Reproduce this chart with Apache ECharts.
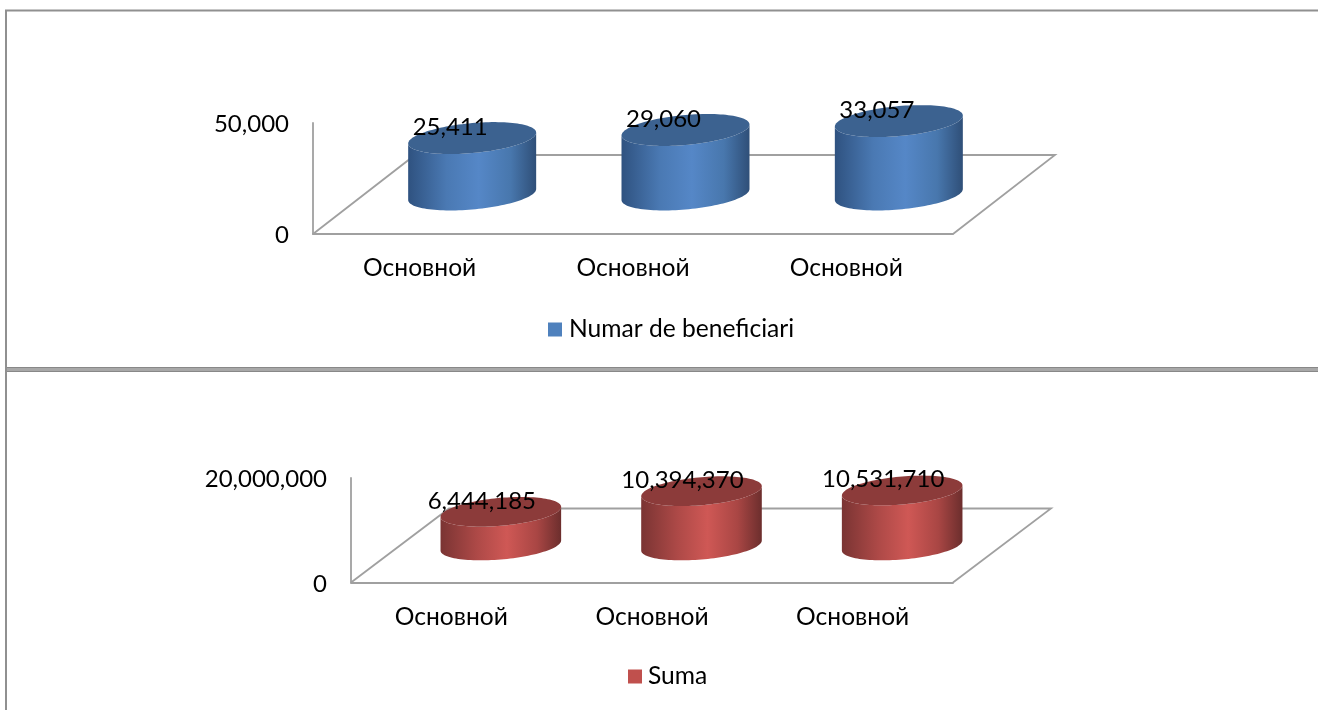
<!DOCTYPE html>
<html><head><meta charset="utf-8">
<style>html,body{margin:0;padding:0;background:#fff}#c{width:1318px;height:710px}</style>
<script src="https://cdn.jsdelivr.net/npm/echarts@6/dist/echarts.min.js"></script>
</head><body><div id="c"></div>
<script>
const categories = ['Основной', 'Основной', 'Основной'];
const beneficiari = [25411, 29060, 33057];
const suma = [6444185, 10394370, 10531710];
const seriesNames = ['Numar de beneficiari', 'Suma'];
const axisMax = [50000, 20000000];

const FONT = 'Lato, "Open Sans", sans-serif';
const FS = 24, FS2 = 24.6;
const AXIS = '#a0a0a0';
const palettes = [
  {legend:'#4f81bd', top:'#3c6290', stops:['#2f5280','#4a79b3','#5587c7','#4877ad','#2f4f78']},
  {legend:'#c0504d', top:'#8c3b3a', stops:['#7a3433','#ad4947','#cf5855','#a94644','#6c2e2d']}
];
const geom = [
  {dx:102, dy:79, ox:1.5, a:64, ka:5.5, b:15, lx:-22, ly:-11},
  {dx:98,  dy:74, ox:0.5, a:60.3, ka:5,   b:14, lx:-19, ly:-11}
];
const fmt = v => Number(v).toLocaleString('en-US');

function floorSeries(i){
  const g = geom[i];
  return {
    type:'custom', name:'floor'+i, xAxisIndex:i, yAxisIndex:i, z:1, silent:true,
    data:[[0,0]], encode:{x:0,y:1},
    renderItem(params){
      const c = params.coordSys, x0=c.x, x1=c.x+c.width, y=c.y+c.height;
      return {type:'polyline', shape:{points:[[x0,y],[x0+g.dx,y-g.dy],[x1+g.dx,y-g.dy],[x1,y]]},
        style:{fill:null, stroke:AXIS, lineWidth:1.8}};
    }
  };
}
function cylSeries(i, values){
  const g = geom[i], p = palettes[i];
  return {
    type:'custom', name:seriesNames[i], xAxisIndex:i, yAxisIndex:i, z:3,
    itemStyle:{color:p.legend}, silent:true,
    data:values.map((v,k)=>[k,v]), encode:{x:0,y:1},
    renderItem(params, api){
      const b0 = api.coord([api.value(0),0]), t0 = api.coord([api.value(0),api.value(1)]);
      const cx = b0[0]+g.dx/2+g.ox, by = b0[1]-g.dy/2, ty = t0[1]-g.dy/2;
      const pt = (cy,t)=>[cx+g.a*Math.cos(t), cy-g.ka*Math.cos(t)+g.b*Math.sin(t)];
      const N = 60, body = [], top = [];
      for(let n=0;n<=N;n++) body.push(pt(by, Math.PI*(1-n/N)));
      for(let n=0;n<=N;n++) body.push(pt(ty, Math.PI*n/N));
      for(let n=0;n<N*2;n++) top.push(pt(ty, Math.PI*n/N));
      const stops = [0,0.3,0.55,0.8,1].map((o,j)=>({offset:o,color:p.stops[j]}));
      return {type:'group', children:[
        {type:'polygon', shape:{points:body},
          style:{fill:{type:'linear',x:0,y:0,x2:1,y2:0,colorStops:stops}}},
        {type:'polygon', shape:{points:top}, style:{fill:p.top}},
        {type:'text', z2:10, style:{x:cx+g.lx, y:ty+g.ly, text:fmt(api.value(1)),
          font:FS+'px '+FONT, fill:'#000', align:'center', verticalAlign:'middle'}}
      ]};
    }
  };
}
function xAxis(i){
  return {gridIndex:i, type:'category', data:categories,
    axisLine:{show:true,lineStyle:{color:AXIS,width:1.8}}, axisTick:{show:false},
    axisLabel:{color:'#000',fontSize:FS2,fontFamily:FONT,margin:22,interval:0}};
}
function yAxis(i){
  return {gridIndex:i, type:'value', min:0, max:axisMax[i], interval:axisMax[i],
    axisLine:{show:true,lineStyle:{color:AXIS,width:1.8}}, axisTick:{show:false}, splitLine:{show:false},
    axisLabel:{color:'#000',fontSize:FS,fontFamily:FONT,margin:24,formatter:fmt,verticalAlign:'top',lineHeight:3}};
}
function hline(y,h,c){return {type:'rect',silent:true,shape:{x:5,y:y,width:1313,height:h},style:{fill:c}};}

const chart = echarts.init(document.getElementById('c'), null, {renderer:'canvas'});
chart.setOption({
  animation:false, backgroundColor:'#fff',
  grid:[{left:313,top:123,width:640,height:111},{left:351,top:478,width:602,height:104.5}],
  xAxis:[xAxis(0),xAxis(1)], yAxis:[yAxis(0),yAxis(1)],
  legend:[
    {data:[seriesNames[0]], left:548, top:317, padding:0, itemWidth:14, itemHeight:14, icon:'rect',
     textStyle:{color:'#000',fontSize:FS2,fontFamily:FONT,padding:[0,0,0,2]}},
    {data:[seriesNames[1]], left:628, top:664, padding:0, itemWidth:14, itemHeight:14, icon:'rect',
     textStyle:{color:'#000',fontSize:FS2,fontFamily:FONT,padding:[0,0,0,1]}}
  ],
  graphic:[
    hline(9.5,2,'#909090'), hline(367,5,'#a8a8a8'), hline(367,1,'#888888'), hline(371,1,'#888888'),
    {type:'rect',silent:true,shape:{x:5,y:10,width:2,height:700},style:{fill:'#909090'}}
  ],
  series:[floorSeries(0),cylSeries(0,beneficiari),floorSeries(1),cylSeries(1,suma)]
});
</script></body></html>
